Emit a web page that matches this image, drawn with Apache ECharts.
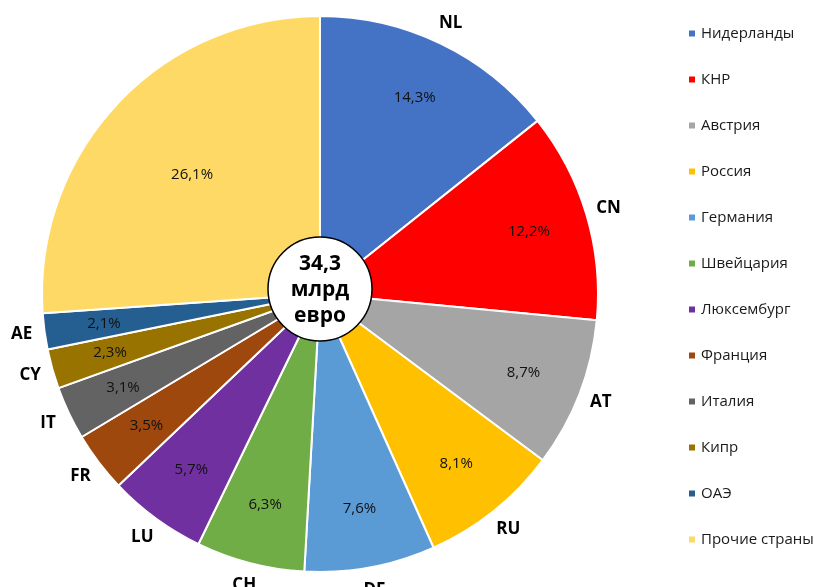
<!DOCTYPE html>
<html>
<head>
<meta charset="utf-8">
<script src="https://cdn.jsdelivr.net/npm/echarts@6/dist/echarts.min.js"></script>
<style>
  html, body { margin: 0; padding: 0; background: #fff; }
  #chart { width: 814px; height: 587px; }
</style>
</head>
<body>
<div id="chart"></div>
<script>
// данные
let countries = ['Нидерланды', 'КНР', 'Австрия', 'Россия', 'Германия', 'Швейцария',
  'Люксембург', 'Франция', 'Италия', 'Кипр', 'ОАЭ', 'Прочие страны']
let codes = ['NL', 'CN', 'AT', 'RU', 'DE', 'CH', 'LU', 'FR', 'IT', 'CY', 'AE', '']
let shares = [14.3, 12.2, 8.7, 8.1, 7.6, 6.3, 5.7, 3.5, 3.1, 2.3, 2.1, 26.1]
let colors = ['#4472C4', '#FF0000', '#A5A5A5', '#FFC000', '#5B9BD5', '#70AD47',
  '#7030A0', '#9E480E', '#636363', '#997300', '#255E91', '#FFD966']
let totalText = '34,3\nмлрд\nевро'

let font = 'Open Sans'
let cx = 320, cy = 294, R = 278
let fmt = (v) => v.toFixed(1).replace('.', ',') + '%'
let hidden = { color: 'rgba(0,0,0,0)', borderWidth: 0 }

let chart = echarts.init(document.getElementById('chart'))
let option = {
  animation: false,
  color: colors,
  legend: {
    orient: 'vertical',
    left: 687,
    top: 26,
    padding: 0,
    icon: 'rect',
    itemWidth: 8,
    itemHeight: 8,
    itemGap: 31,
    data: countries,
    selectedMode: false,
    textStyle: { fontFamily: font, fontSize: 15, color: '#1a1a1a', lineHeight: 15 },
  },
  graphic: [
    {
      type: 'circle',
      z: 100,
      shape: { cx: cx, cy: 289, r: 52 },
      style: { fill: '#fff', stroke: '#000', lineWidth: 1.5 },
    },
    {
      type: 'text',
      z: 101,
      x: cx,
      y: 290,
      style: {
        text: totalText,
        fontFamily: font,
        fontWeight: 'bold',
        fontSize: 21,
        lineHeight: 26,
        align: 'center',
        verticalAlign: 'middle',
        fill: '#000',
      },
    },
  ],
  series: [
    {
      // основной круг
      type: 'pie',
      center: [cx, cy],
      radius: [0, R],
      startAngle: 90,
      clockwise: true,
      silent: true,
      itemStyle: { borderColor: '#fff', borderWidth: 2 },
      label: { show: false },
      labelLine: { show: false },
      data: countries.map((n, i) => ({ name: n, value: shares[i] })),
    },
    {
      // проценты
      type: 'pie',
      center: [cx, cy],
      radius: [152, R],
      startAngle: 90,
      silent: true,
      itemStyle: hidden,
      label: {
        show: true,
        position: 'inside',
        rotate: 0,
        fontFamily: font,
        fontSize: 15,
        color: '#111',
        formatter: (p) => (p.dataIndex === shares.length - 1 ? '' : fmt(p.value)),
      },
      labelLine: { show: false },
      data: countries.map((n, i) => ({ name: n, value: shares[i] })),
    },
    {
      // процент для прочих стран
      type: 'pie',
      center: [cx, cy],
      radius: [66, R],
      startAngle: 90,
      silent: true,
      itemStyle: hidden,
      label: {
        show: true,
        position: 'inside',
        rotate: 0,
        fontFamily: font,
        fontSize: 15,
        color: '#111',
        formatter: (p) => (p.dataIndex === shares.length - 1 ? fmt(p.value) : ''),
      },
      labelLine: { show: false },
      data: countries.map((n, i) => ({ name: n, value: shares[i] })),
    },
    {
      // коды стран снаружи
      type: 'pie',
      center: [cx, cy],
      radius: [R, R + 40],
      startAngle: 90,
      silent: true,
      itemStyle: hidden,
      label: {
        show: true,
        position: 'inside',
        rotate: 0,
        fontFamily: font,
        fontWeight: 'bold',
        fontSize: 17,
        color: '#000',
        formatter: (p) => codes[p.dataIndex],
      },
      labelLine: { show: false },
      data: countries.map((n, i) => ({ name: n, value: shares[i] })),
    },
  ],
}
chart.setOption(option)
</script>
</body>
</html>
